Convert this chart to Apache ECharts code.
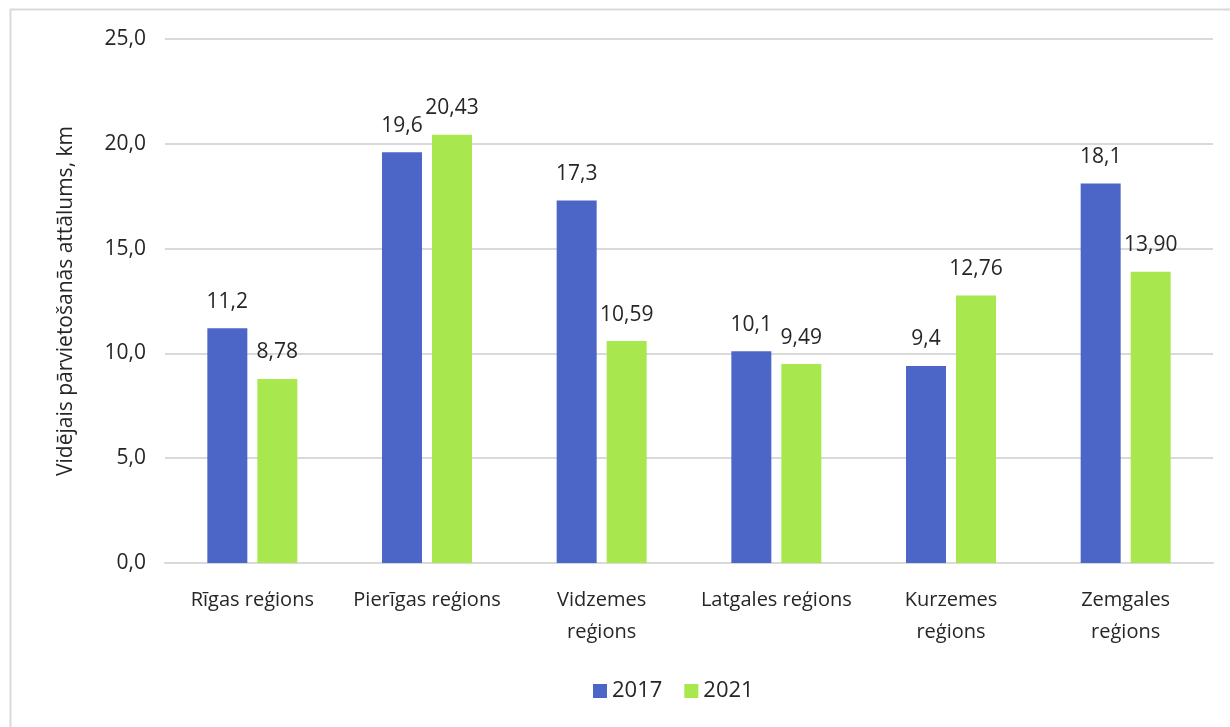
<!DOCTYPE html>
<html>
<head>
<meta charset="utf-8">
<script src="https://cdn.jsdelivr.net/npm/echarts@6/dist/echarts.min.js"></script>
<style>
  html, body { margin: 0; padding: 0; background: #fff; }
  #chart { width: 1230px; height: 727px; }
</style>
</head>
<body>
<div id="chart"></div>
<script>
  // reģioni
  var regions = ['Rīgas reģions', 'Pierīgas reģions', 'Vidzemes\nreģions', 'Latgales reģions', 'Kurzemes\nreģions', 'Zemgales\nreģions'];
  // vidējais attālums, km
  var data2017 = [11.2, 19.6, 17.3, 10.1, 9.4, 18.1];
  var data2021 = [8.78, 20.43, 10.59, 9.49, 12.76, 13.90];
  var yTicks = [0, 5, 10, 15, 20, 25];

  var myChart = echarts.init(document.getElementById('chart'));
  var font = '"Open Sans", "Noto Sans", sans-serif';

  function fmt(v, d) {
    return v.toFixed(d).replace('.', ',');
  }

  var option = {
    backgroundColor: '#fff',
    textStyle: { fontFamily: font },
    graphic: [{
      type: 'rect',
      left: 8, top: 7,
      shape: { width: 1240, height: 740 },
      style: { fill: 'none', stroke: '#d9d9d9', lineWidth: 2 },
      silent: true
    }],
    grid: {
      left: 165,
      right: 17,
      top: 39,
      bottom: 164
    },
    legend: {
      bottom: 20,
      left: 588,
      itemWidth: 14,
      itemHeight: 14,
      itemGap: 22,
      icon: 'rect',
      textStyle: { fontSize: 22, color: '#262626', fontFamily: font },
      data: ['2017', '2021']
    },
    xAxis: [{
      type: 'category',
      data: regions,
      axisLine: { lineStyle: { color: '#d9d9d9', width: 2 } },
      axisTick: { show: false },
      axisLabel: {
        interval: 0,
        fontSize: 20,
        color: '#262626',
        margin: 21,
        lineHeight: 32,
        fontFamily: font
      }
    }],
    yAxis: [{
      type: 'value',
      min: 0,
      max: 25,
      interval: 5,
      name: 'Vidējais pārvietošanās attālums, km',
      nameLocation: 'middle',
      nameGap: 88,
      nameTextStyle: { fontSize: 21, color: '#262626', fontFamily: font },
      axisLine: { show: false },
      axisTick: { show: false },
      splitLine: { lineStyle: { color: '#d9d9d9', width: 2 } },
      axisLabel: {
        fontSize: 21,
        color: '#262626',
        margin: 19,
        fontFamily: font,
        formatter: function (v) {
          return yTicks.indexOf(v) >= 0 ? fmt(v, 1) : '';
        }
      }
    }],
    series: [
      {
        name: '2017',
        type: 'bar',
        barWidth: 40,
        barGap: '25%',
        itemStyle: { color: '#4c66c8' },
        label: {
          show: true,
          position: 'top',
          distance: 16,
          fontSize: 21,
          color: '#262626',
          fontFamily: font,
          formatter: function (p) { return fmt(p.value, 1); }
        },
        data: data2017
      },
      {
        name: '2021',
        type: 'bar',
        barWidth: 40,
        itemStyle: { color: '#a8e84e' },
        label: {
          show: true,
          position: 'top',
          distance: 16,
          fontSize: 21,
          color: '#262626',
          fontFamily: font,
          formatter: function (p) { return fmt(p.value, 2); }
        },
        data: data2021
      }
    ]
  };
  myChart.setOption(option, true);
</script>
</body>
</html>
